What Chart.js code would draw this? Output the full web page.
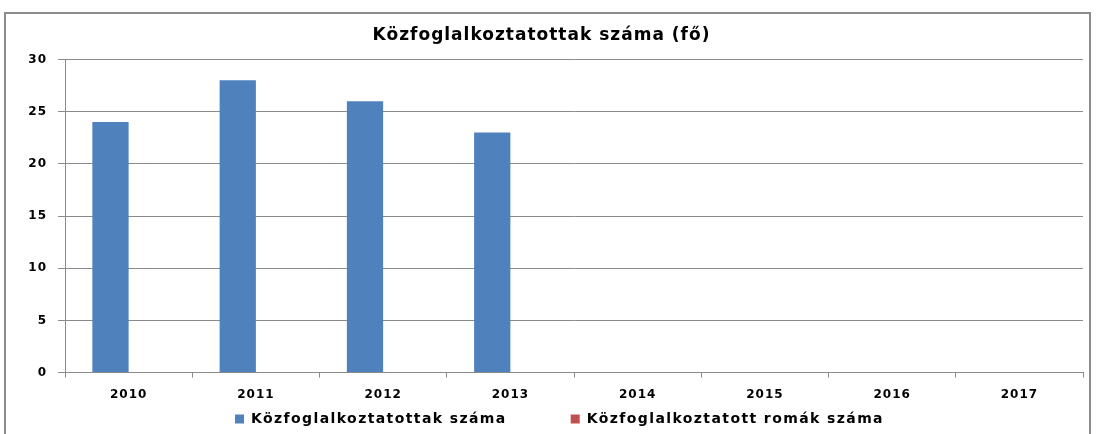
<!DOCTYPE html>
<html>
<head>
<meta charset="utf-8">
<script src="https://cdn.jsdelivr.net/npm/chart.js@4"></script>
<style>
  html, body { margin: 0; padding: 0; background: #fff; overflow: hidden; }
  #wrap { position: relative; width: 1097px; height: 434px; }
  #frame { position: absolute; left: 4px; top: 12px; width: 1087px; height: 440px; border: 2px solid #8c8c8c; box-sizing: border-box; pointer-events: none; }
  canvas { position: absolute; left: 0; top: 0; }
</style>
</head>
<body>
<div id="wrap">
  <canvas id="chart" width="1097" height="434"></canvas>
  <div id="frame"></div>
</div>
<script>
(function () {
    "use strict";

    // Data
    const years = ['2010', '2011', '2012', '2013', '2014', '2015', '2016', '2017'];
    const employed = [24, 28, 26, 23, null, null, null, null];
    const roma = [null, null, null, null, null, null, null, null];
    const yTicks = [0, 5, 10, 15, 20, 25, 30];

    // Colors
    const blue = '#4F81BD';
    const red = '#C0504D';
    const grid = '#8a8a8a';

    const font = 'DejaVu Sans';

    // wide, spaced-out lettering like the original
    const spacing = {
        id: 'spacing',
        beforeUpdate: (chart) => { chart.ctx.letterSpacing = '1px'; },
        beforeDraw: (chart) => { chart.ctx.letterSpacing = '1px'; }
    };

    // Legend drawn by hand so the items can sit far apart
    const wideLegend = {
        id: 'wideLegend',
        afterDraw: function (chart) {
            const ctx = chart.ctx;
            const box = 9, gap = 7, between = 64;
            ctx.save();
            ctx.letterSpacing = '1.4px';
            ctx.font = 'bold 14px "' + font + '"';
            ctx.textBaseline = 'middle';
            ctx.textAlign = 'left';
            const items = chart.data.datasets.map(ds => ({
                text: ds.label,
                color: ds.backgroundColor,
                w: box + gap + ctx.measureText(ds.label).width
            }));
            const total = items.reduce((s, it) => s + it.w, 0) + between * (items.length - 1);
            let x = chart.width / 2 + 11 - total / 2;
            const y = 419;
            items.forEach(it => {
                ctx.fillStyle = it.color;
                ctx.fillRect(x, y - box / 2, box, box);
                ctx.fillStyle = '#000';
                ctx.fillText(it.text, x + box + gap, y);
                x += it.w + between;
            });
            ctx.restore();
        }
    };

    const ctx = document.getElementById('chart').getContext('2d');
    new Chart(ctx, {
        type: 'bar',
        data: {
            labels: years,
            datasets: [{
                label: 'Közfoglalkoztatottak száma',
                data: employed,
                backgroundColor: blue,
                borderWidth: 0
            }, {
                label: 'Közfoglalkoztatott romák száma',
                data: roma,
                backgroundColor: red,
                borderWidth: 0
            }]
        },
        options: {
            responsive: false,
            animation: false,
            layout: {
                padding: { top: 13, left: 0, right: 14, bottom: 22 }
            },
            datasets: {
                bar: {
                    categoryPercentage: 0.57,
                    barPercentage: 1.0
                }
            },
            scales: {
                x: {
                    grid: {
                        display: true,
                        drawOnChartArea: false,
                        drawTicks: true,
                        tickLength: 5,
                        color: grid,
                        offset: true
                    },
                    border: { color: grid, width: 1 },
                    ticks: {
                        color: '#000',
                        padding: 10,
                        font: { family: font, size: 12, weight: 'bold' }
                    }
                },
                y: {
                    min: 0,
                    max: 30,
                    afterBuildTicks: function (scale) {
                        scale.ticks = yTicks.map(v => ({ value: v }));
                    },
                    afterFit: function (scale) {
                        scale.width = 65;
                    },
                    grid: {
                        color: grid,
                        tickLength: 7
                    },
                    border: { color: grid, width: 1 },
                    ticks: {
                        color: '#000',
                        padding: 11,
                        font: { family: font, size: 12, weight: 'bold' }
                    }
                }
            },
            plugins: {
                title: {
                    display: true,
                    text: 'Közfoglalkoztatottak száma (fő)',
                    color: '#000',
                    padding: { top: 12, bottom: 14 },
                    font: { family: font, size: 17, weight: 'bold' }
                },
                legend: { display: false },
                tooltip: { enabled: false }
            }
        },
        plugins: [spacing, wideLegend]
    });
})();
</script>
</body>
</html>
